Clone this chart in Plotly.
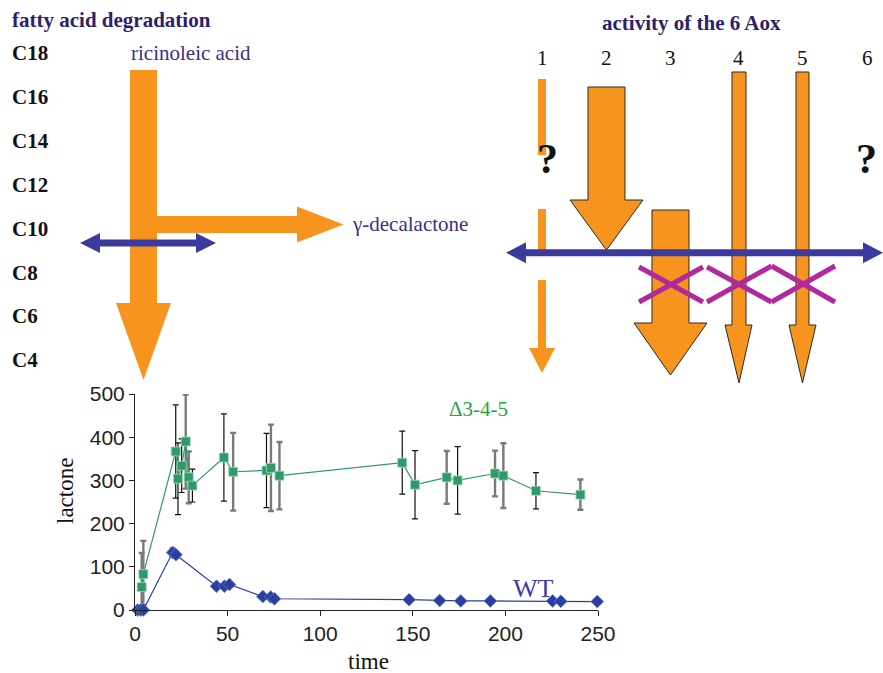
import plotly.graph_objects as go

W, H = 883, 673

# ---------------- data ----------------
time_d35 = [3.6, 4.5, 22, 23.2, 25.2, 27.4, 29, 31, 48, 53, 71, 73.4, 78,
            144.3, 151.2, 168.3, 174.2, 194.4, 198.9, 216.5, 240.5]
lact_d35 = [53, 83, 367, 304, 334, 390, 307, 288, 353, 320, 323, 329, 311,
            341, 290, 307, 300, 316, 311, 276, 267]
err_d35 = [79, 77, 108, 83, 62, 109, 60, 38, 101, 90, 86, 100, 78,
           73, 79, 61, 78, 53, 75, 42, 35]
errshade_d35 = ['g', 'g', 'k', 'k', 'k', 'g', 'g', 'k', 'k', 'g', 'k', 'g', 'g',
                'k', 'k', 'g', 'k', 'g', 'g', 'k', 'g']

time_wt = [1.5, 3, 4.5, 20.3, 22.1, 44, 48.3, 51, 69, 73.3, 75.3,
           148, 164.5, 175.9, 191.9, 225.5, 229.9, 249.6]
lact_wt = [0, 0, 0, 133, 128, 55, 55, 59, 31, 30, 26,
           24, 22, 21, 21, 21, 20, 19.5]
err_wt = [0, 8, 12, 10, 8, 4, 4, 4, 3, 3, 3, 2, 2, 2, 2, 2, 2, 2]

x_ticks = [0, 50, 100, 150, 200, 250]
y_ticks = [0, 100, 200, 300, 400, 500]

carbon_labels = ["C18", "C16", "C14", "C12", "C10", "C8", "C6", "C4"]
aox_labels = ["1", "2", "3", "4", "5", "6"]

# ---------------- colours ----------------
ORANGE = "#f7941d"
BLUE_ARROW = "#3b3b9e"
MAGENTA = "#b12a9d"
PURPLE_TXT = "#2d1f6b"
GREEN = "#2e9a68"
BLUE_WT = "#2b3fa0"

fig = go.Figure()

# error bars (split into grey/black groups)
for shade, col, thick in [('g', '#7a7a7a', 2.4), ('k', '#111111', 1.2)]:
    xs = [t for t, s in zip(time_d35, errshade_d35) if s == shade]
    ys = [v for v, s in zip(lact_d35, errshade_d35) if s == shade]
    es = [e for e, s in zip(err_d35, errshade_d35) if s == shade]
    fig.add_trace(go.Scatter(
        x=xs, y=ys, mode="markers",
        marker=dict(size=1, opacity=0),
        error_y=dict(type="data", array=es, visible=True, color=col,
                     thickness=thick, width=3),
        cliponaxis=False, showlegend=False, hoverinfo="skip"))

fig.add_trace(go.Scatter(
    x=time_wt, y=lact_wt, mode="lines+markers",
    line=dict(color=BLUE_WT, width=1.2),
    marker=dict(symbol="diamond", size=10, color=BLUE_WT,
                line=dict(color="#7f8fd0", width=0.6)),
    error_y=dict(type="data", array=err_wt, visible=True, color="#111111",
                 thickness=1.2, width=3),
    cliponaxis=False, showlegend=False, name="WT"))

fig.add_trace(go.Scatter(
    x=time_d35, y=lact_d35, mode="lines+markers",
    line=dict(color=GREEN, width=1.2),
    marker=dict(symbol="square", size=9, color=GREEN,
                line=dict(color="#9fd8bd", width=0.8)),
    cliponaxis=False, showlegend=False, name="Δ3-4-5"))


# ---------------- helpers for the diagram (pixel -> paper) ----------------
def px(x):
    return x / W


def py(y):
    return 1 - y / H


def path(points):
    s = "M " + " L ".join(f"{px(x):.5f},{py(y):.5f}" for x, y in points) + " Z"
    return s


def down_arrow(x0, x1, top, base, hx0, hx1, tipx, tipy):
    return [(x0, top), (x1, top), (x1, base), (hx1, base), (tipx, tipy),
            (hx0, base), (x0, base)]


shapes = []


def add_poly(points, fill, outline=None, lw=1):
    shapes.append(dict(type="path", path=path(points), xref="paper", yref="paper",
                       fillcolor=fill,
                       line=dict(color=outline if outline else fill,
                                 width=lw if outline else 0),
                       layer="above"))


def add_line(pts, color, width):
    for (xa, ya), (xb, yb) in zip(pts[:-1], pts[1:]):
        shapes.append(dict(type="line", xref="paper", yref="paper",
                           x0=px(xa), y0=py(ya), x1=px(xb), y1=py(yb),
                           line=dict(color=color, width=width), layer="above"))


def double_arrow(xl, xr, yc, head_len, half_h, thick, color):
    t = thick / 2
    pts = [(xl, yc), (xl + head_len, yc - half_h), (xl + head_len, yc - t),
           (xr - head_len, yc - t), (xr - head_len, yc - half_h), (xr, yc),
           (xr - head_len, yc + half_h), (xr - head_len, yc + t),
           (xl + head_len, yc + t), (xl + head_len, yc + half_h)]
    add_poly(pts, color)


# ---- left diagram ----
add_poly(down_arrow(130, 157, 70, 303, 116, 171, 143.5, 380), ORANGE)
add_poly([(150, 216), (297, 216), (297, 206.5), (343.5, 224.5), (297, 242.5),
          (297, 233), (150, 233)], ORANGE)
double_arrow(80, 216, 243, 20, 10, 7, BLUE_ARROW)

# ---- right diagram ----
# arrow 1 (broken, thin)
add_poly([(538, 79), (546, 79), (546, 155), (538, 155)], ORANGE)
add_poly([(538, 209), (546, 209), (546, 250), (538, 250)], ORANGE)
add_poly([(538, 280), (546, 280), (546, 348), (555, 348), (542, 373),
          (529, 348), (538, 348)], ORANGE)
# arrows 2-5
add_poly(down_arrow(588, 625, 87, 200, 570, 643, 606.5, 250), ORANGE, "#2a2a2a", 1)
add_poly(down_arrow(652, 689, 210, 323, 634, 707, 670.5, 375), ORANGE, "#2a2a2a", 1)
add_poly(down_arrow(732, 746, 72, 325, 725, 752, 739, 383), ORANGE, "#2a2a2a", 1)
add_poly(down_arrow(796, 809, 72, 325, 789, 816, 802.5, 383), ORANGE, "#2a2a2a", 1)
# blue double arrow
double_arrow(506, 883, 252.7, 20, 10.5, 7, BLUE_ARROW)
# magenta crosses
add_line([(639, 267), (703, 302)], MAGENTA, 5)
add_line([(639, 302), (703, 267)], MAGENTA, 5)
add_line([(707, 302), (771.5, 266), (835, 302)], MAGENTA, 5)
add_line([(707, 267), (771.5, 302), (835, 266)], MAGENTA, 5)

# ---------------- texts ----------------
SERIF = "Liberation Serif"
ann = []


def text(x, y, s, size, color="#000000", bold=False, xanchor="center", family=SERIF):
    if bold:
        s = f"<b>{s}</b>"
    ann.append(dict(x=px(x), y=py(y), xref="paper", yref="paper", text=s,
                    showarrow=False, xanchor=xanchor, yanchor="middle",
                    font=dict(family=family, size=size, color=color)))


text(10, 20, "fatty acid degradation", 21, PURPLE_TXT, True, "left")
for i, lab in enumerate(carbon_labels):
    text(10, 53 + i * 43.9, lab, 21, "#111111", True, "left")
text(191, 53, "ricinoleic acid", 21, "#3a2f8a")
text(350, 224, "γ-decalactone", 21, "#3a2f8a", False, "left")

text(691, 23, "activity of the 6 Aox", 21, PURPLE_TXT, True)
aox_x = [542, 606, 670, 738, 802, 867]
for xx, lab in zip(aox_x, aox_labels):
    text(xx, 58, lab, 21, "#111111")
text(547, 159, "?", 42, "#111111", True)
text(866, 159, "?", 42, "#111111", True)

text(478, 409, "Δ3-4-5", 21, "#1fa53a")
text(533.5, 588, "WT", 26, "#3b3ba3")
# axis titles as annotations so nothing can push the margins
text(65, 491, "lactone", 23, "#111111")
ann[-1]["textangle"] = -90
text(368, 661, "time", 23, "#111111")

fig.update_layout(
    template="none",
    width=W, height=H, margin=dict(l=0, r=0, t=0, b=0, pad=0, autoexpand=False),
    paper_bgcolor="white", plot_bgcolor="white",
    shapes=shapes, annotations=ann, showlegend=False,
    xaxis=dict(domain=[135 / W, 598 / W], range=[0, 250], tickvals=x_ticks,
               automargin=False,
               showgrid=False, zeroline=False, showline=True, linecolor="#222222",
               linewidth=1, ticks="outside", ticklen=5, tickcolor="#222222",
               tickfont=dict(family="Liberation Sans", size=21, color="#222222")),
    yaxis=dict(domain=[1 - 610 / H, 1 - 394 / H], range=[0, 500], tickvals=y_ticks,
               automargin=False,
               showgrid=False, zeroline=False, showline=True, linecolor="#222222",
               linewidth=1, ticks="outside", ticklen=5, tickcolor="#222222",
               tickfont=dict(family="Liberation Sans", size=21, color="#222222")),
)

fig.write_html("out.html")
